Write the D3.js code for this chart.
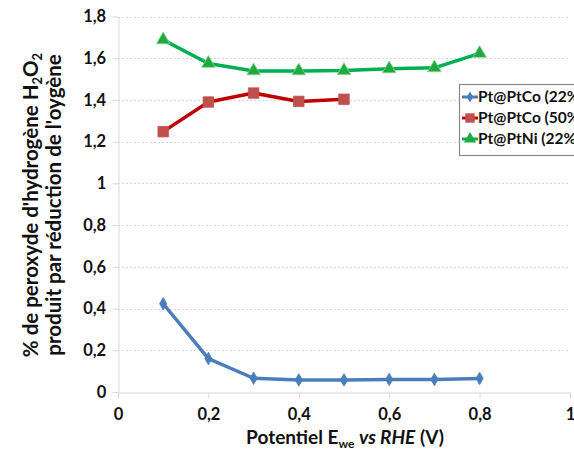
<!DOCTYPE html>
<html><head><meta charset="utf-8">
<script src="https://cdn.jsdelivr.net/npm/d3@7"></script>
<style>body{margin:0;background:#fff}svg{display:block;font-family:Lato,"Open Sans",sans-serif}</style>
</head><body><svg id="c" width="574" height="453"></svg>
<script>
const potentials = [0.1,0.2,0.3,0.4,0.5,0.6,0.7,0.8];
const seriesNames = ["Pt@PtCo (22%)","Pt@PtCo (50%)","Pt@PtNi (22%)"];
const ptco22 = [0.423,0.16,0.066,0.058,0.058,0.06,0.06,0.065];
const ptco50 = [1.248,1.39,1.433,1.393,1.403];
const ptni22 = [1.688,1.575,1.539,1.539,1.541,1.549,1.554,1.623];
const xTicks = [0,0.2,0.4,0.6,0.8,1];
const yTicks = [0,0.2,0.4,0.6,0.8,1,1.2,1.4,1.6,1.8];

const svg = d3.select("#c");
const x = d3.scaleLinear().domain([0,1]).range([118,570]);
const y = d3.scaleLinear().domain([0,1.8]).range([392,16.5]);
const fmt = d => String(d).replace(".", ",");

// gridlines
svg.append("g").selectAll("line").data(yTicks.slice(1)).join("line")
  .attr("x1",118).attr("x2",570).attr("y1",d=>Math.round(y(d))+0.5).attr("y2",d=>Math.round(y(d))+0.5)
  .attr("stroke","#d9d9d9").attr("stroke-dasharray","2,2");

const xa = svg.append("g").attr("transform","translate(0,392.5)")
  .call(d3.axisBottom(x).tickValues(xTicks).tickFormat(fmt).tickSize(6).tickSizeOuter(0));
const ya = svg.append("g").attr("transform","translate(118.5,0)")
  .call(d3.axisLeft(y).tickValues(yTicks).tickFormat(fmt).tickSize(6).tickSizeOuter(0));
[xa,ya].forEach(a=>{
  a.select(".domain").attr("stroke","#d9d9d9");
  a.selectAll(".tick line").attr("stroke","#d9d9d9");
  a.selectAll("text").attr("font-size",16.5).attr("font-weight","bold").attr("fill","#111").attr("font-family","Lato,sans-serif");
});
xa.selectAll("text").attr("dy","1.15em");
ya.selectAll("text").attr("dx","-0.2em");

const line = d3.line().x((d,i)=>x(potentials[i])).y(d=>y(d));
const defs = [
  {vals:ptco22, lc:"#4a7ebb", mc:"#4a7ebb", sym:d3.symbolDiamond, size:45},
  {vals:ptco50, lc:"#c00000", mc:"#c0504d", sym:d3.symbolSquare, size:110},
  {vals:ptni22, lc:"#00b050", mc:"#1faa3e", sym:d3.symbolTriangle, size:80}
];
defs.forEach(s=>{
  svg.append("path").attr("d",line(s.vals)).attr("fill","none").attr("stroke",s.lc).attr("stroke-width",3.5).attr("stroke-linejoin","round");
  svg.append("g").selectAll("path").data(s.vals).join("path")
    .attr("d",d3.symbol(s.sym,s.size)).attr("transform",(d,i)=>`translate(${x(potentials[i])},${y(d)})`)
    .attr("fill",s.mc).attr("stroke", s.sym===d3.symbolTriangle?"#8fd18f":s.mc).attr("stroke-width",0.8);
});

// legend
const lg = svg.append("g");
lg.append("rect").attr("x",459.5).attr("y",84.5).attr("width",130).attr("height",71).attr("fill","#fff").attr("stroke","#888").attr("stroke-width",1.2);
defs.forEach((s,i)=>{
  const cy = 97 + i*21;
  lg.append("line").attr("x1",462).attr("x2",478).attr("y1",cy).attr("y2",cy).attr("stroke",s.lc).attr("stroke-width",3);
  lg.append("path").attr("d",d3.symbol(s.sym,s.size*0.8)).attr("transform",`translate(470,${cy})`).attr("fill",s.mc);
  lg.append("text").attr("x",478).attr("y",cy).attr("dy","0.35em").attr("font-size",15.5).attr("font-weight","bold").attr("fill","#111").text(seriesNames[i]);
});

// axis titles
const xt = svg.append("text").attr("x",345).attr("y",444).attr("text-anchor","middle").attr("font-size",19).attr("font-weight","bold").attr("fill","#111");
xt.append("tspan").text("Potentiel E");
xt.append("tspan").attr("font-size",12).attr("dy",4).text("we");
xt.append("tspan").attr("dy",-4).text(" ");
xt.append("tspan").attr("font-style","italic").text("vs RHE");
xt.append("tspan").text(" (V)");

const yt = svg.append("g").attr("transform","translate(0,205) rotate(-90)");
const l1 = yt.append("text").attr("x",0).attr("y",38).attr("text-anchor","middle").attr("font-size",20.5).attr("font-weight","bold").attr("fill","#111");
l1.append("tspan").text("% de peroxyde d'hydrogène H");
l1.append("tspan").attr("font-size",13).attr("dy",4).text("2");
l1.append("tspan").attr("dy",-4).text("O");
l1.append("tspan").attr("font-size",13).attr("dy",4).text("2");
yt.append("text").attr("x",0).attr("y",61).attr("text-anchor","middle").attr("font-size",20.5).attr("font-weight","bold").attr("fill","#111").text("produit par réduction de l'oygène");
</script></body></html>
